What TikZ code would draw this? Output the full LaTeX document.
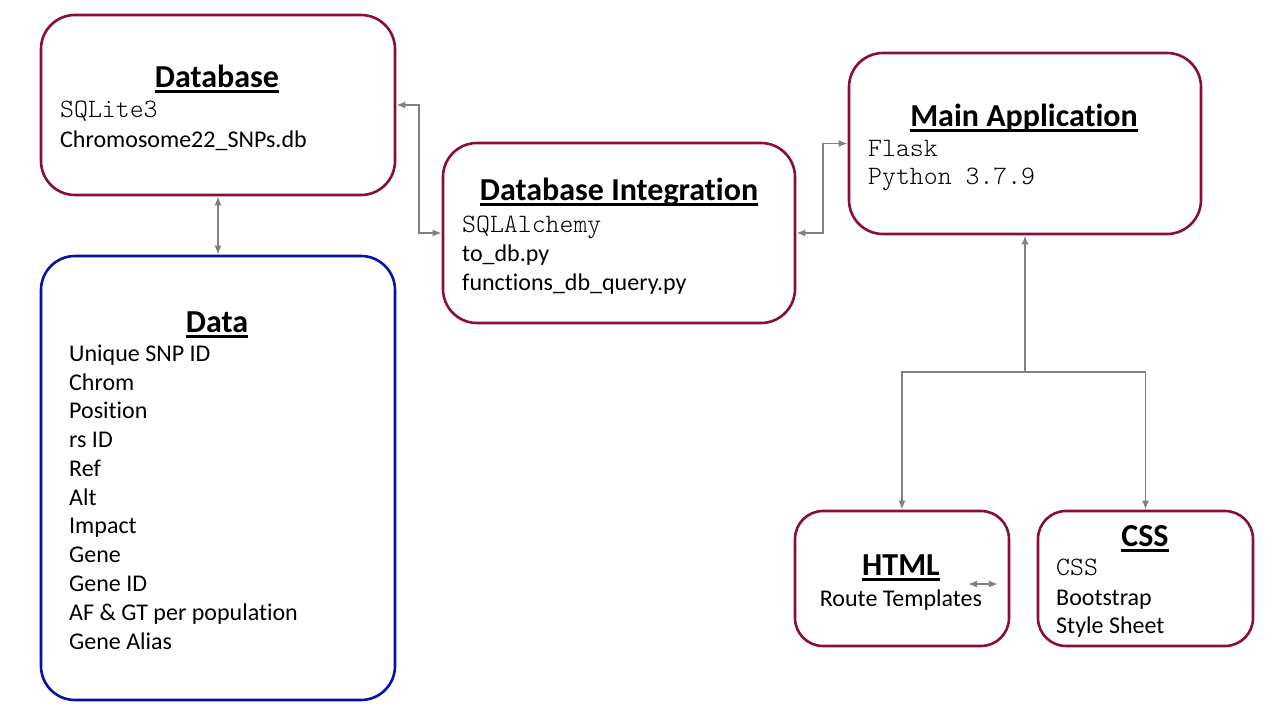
\documentclass[tikz,border=0pt]{standalone}
\usepackage{fontspec}
\setmainfont[Ligatures=NoCommon]{Carlito}
\newfontfamily\codefont{Latin Modern Mono Light}
\usetikzlibrary{arrows.meta}
\definecolor{wine}{RGB}{137,14,60}
\definecolor{datablue}{RGB}{8,16,168}
\definecolor{linkgray}{RGB}{128,128,128}
\newcommand{\headline}[1]{\setbox0=\hbox{#1}\rlap{\vrule width\wd0 height -3pt depth 5.5pt}\box0}
\begin{document}
\begin{tikzpicture}[x=1pt,y=-1pt,
    >={Latex[length=9pt,width=7pt]},
    box/.style={draw=wine,line width=2.6pt,rounded corners=34pt},
    smallbox/.style={box,rounded corners=28pt},
    link/.style={draw=linkgray,line width=1.8pt},
    title/.style={anchor=base,inner sep=0pt,font=\fontsize{32}{38}\selectfont\bfseries},
    txt/.style={anchor=base west,inner sep=0pt,font=\fontsize{24}{29}\selectfont},
    code/.style={anchor=base west,inner sep=0pt,font=\codefont\fontsize{26.5}{30}\selectfont}]
                        \useasboundingbox[fill=white] (0,0) rectangle (1280,720);
                        % boxes
                        \node [box,minimum width=354pt,minimum height=180pt] (db) at (218,105) {};
                        \node [box,draw=datablue,minimum width=354pt,minimum height=444pt] (data) at (218,478) {};
                        \node [box,minimum width=352pt,minimum height=180pt] (dbi) at (619,233) {};
                        \node [box,minimum width=352pt,minimum height=181pt] (app) at (1025,143.5) {};
                        \node [smallbox,minimum width=214pt,minimum height=135pt] (html) at (902,578.5) {};
                        \node [smallbox,minimum width=215pt,minimum height=135pt] (css) at (1145.5,578.5) {};
                        % Database
                        \node [title] at (217,87) {\headline{Database}};
                        \node [code] at (60,117) {SQLite3};
                        \node [txt] at (60,147) {Chromosome22\_SNPs.db};
                        % Data
                        \node [title] at (217,332) {\headline{Data}};
                        \node [txt] at (69,361) {Unique SNP ID};
                        \node [txt] at (69,390) {Chrom};
                        \node [txt] at (69,418) {Position};
                        \node [txt] at (69,447) {rs ID};
                        \node [txt] at (69,476) {Ref};
                        \node [txt] at (69,505) {Alt};
                        \node [txt] at (69,533) {Impact};
                        \node [txt] at (69,562) {Gene};
                        \node [txt] at (69,591) {Gene ID};
                        \node [txt] at (69,620) {AF \& GT per population};
                        \node [txt] at (69,649) {Gene Alias};
                        % Database Integration
                        \node [title] at (619,200) {\headline{Database Integration}};
                        \node [code] at (462,232) {SQLAlchemy};
                        \node [txt] at (462,261) {to\_db.py};
                        \node [txt] at (462,290) {functions\_db\_query.py};
                        % Main Application
                        \node [title] at (1024,126) {\headline{Main Application}};
                        \node [code] at (868,156) {Flask};
                        \node [code] at (868,184) {Python 3.7.9};
                        % HTML and CSS
                        \node [title] at (901,575) {\headline{HTML}};
                        \node [txt,anchor=base] at (901,606) {Route Templates};
                        \node [title] at (1145,546) {\headline{CSS}};
                        \node [code] at (1056,575) {CSS};
                        \node [txt] at (1056,605) {Bootstrap};
                        \node [txt] at (1056,633) {Style Sheet};
                        % connectors
                        \coordinate (split) at (1025,372);
                        \coordinate (left) at (968,584);
                        \coordinate (right) at (998,584);
                        \draw [link,<->] (db.south) -- (data.north);
                        \draw [link,<->] (db.east) -- ++(23,0) |- (dbi.west);
                        \draw [link,<->] (dbi.east) -- ++(27,0) |- (app.west);
                        \draw [link,<-] (app.south) -- (split);
                        \draw [link,->] (split) -| (html.north);
                        \draw [link,->] (split) -| (css.north);
                        \draw [link,<->] (left) -- (right);
                    \end{tikzpicture}
\end{document}
